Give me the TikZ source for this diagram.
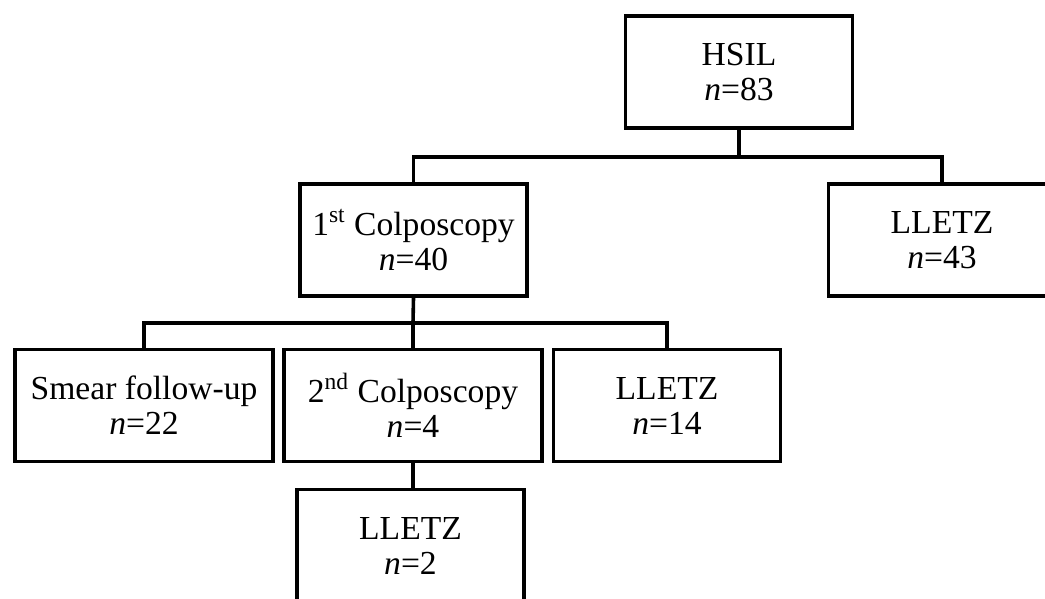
\documentclass[tikz,border=0pt]{standalone}
\usepackage{fontspec}
\setmainfont{Liberation Serif}
\usetikzlibrary{positioning}

\begin{document}
\begin{tikzpicture}[
        x=0.5pt, y=-0.5pt,
        stage box/.style={draw, line width=1.8pt, align=center, inner sep=0pt,
          minimum width=113.5pt, minimum height=56pt,
          font=\fontsize{16.8}{17.5}\selectfont},
        wide box/.style={stage box, minimum width=129pt},
        branch line/.style={line width=1.8pt},
      ]
      \useasboundingbox (0,0) rectangle (1045,599);
      \clip (0,0) rectangle (1045,599);

      \node[stage box] (hsil) at (739,72) {HSIL\\\textit{n}=83};
      \node[stage box] (colpa) at (413.5,240) {1\textsuperscript{st} Colposcopy\\\textit{n}=40};
      \node[stage box] (lletzr) at (942,240) {LLETZ\\\textit{n}=43};
      \node[wide box] (smear) at (144,405.5) {Smear follow-up\\\textit{n}=22};
      \node[wide box] (colpb) at (413,405.5) {2\textsuperscript{nd} Colposcopy\\\textit{n}=4};
      \node[stage box] (lletzm) at (667,405.5) {LLETZ\\\textit{n}=14};
      \node[stage box] (lletzb) at (410.5,545.5) {LLETZ\\\textit{n}=2};

      \coordinate (top bus) at (739,157);
      \coordinate (mid bus) at (413,323);

      \draw[branch line] (hsil.south) -- (top bus);
      \draw[branch line] (colpa.north) |- (top bus) -| (lletzr.north);
      \draw[branch line] (colpa.south) -- (mid bus);
      \draw[branch line] (smear.north) |- (mid bus) -| (lletzm.north);
      \draw[branch line] (mid bus) -- (colpb.north);
      \draw[branch line] (colpb.south) -- (colpb.south |- lletzb.north);
      \end{tikzpicture}
\end{document}
